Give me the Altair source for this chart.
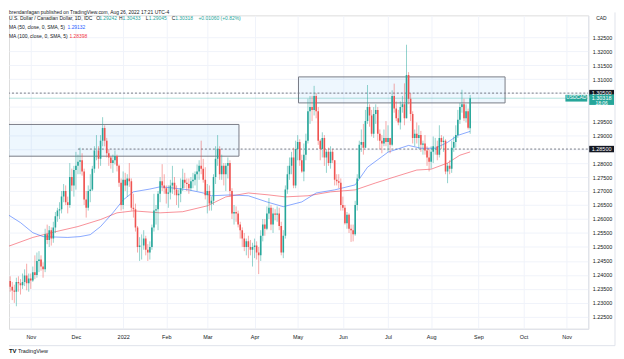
import altair as alt
import pandas as pd

UP = "#26a69a"
DOWN = "#ef5350"
TXT = "#131722"
FONT = "Liberation Sans"

# ---- daily USD/CAD candles (close, high, low); open = previous close ----
first_open = 1.2385
oct21 = [(1.2378,1.2400,1.2345),(1.2358,1.2395,1.2340),(1.2344,1.2375,1.2310),(1.2340,1.2365,1.2300),
         (1.2375,1.2390,1.2288),(1.2370,1.2395,1.2340),(1.2363,1.2385,1.2330),(1.2375,1.2405,1.2350),
         (1.2398,1.2420,1.2360),(1.2370,1.2440,1.2345),(1.2387,1.2405,1.2340)]
nov21 = [(1.2380,1.2405,1.2350),(1.2410,1.2430,1.2375),(1.2400,1.2470,1.2385),(1.2450,1.2480,1.2390),
         (1.2455,1.2485,1.2410),(1.2430,1.2470,1.2415),(1.2420,1.2445,1.2390),(1.2545,1.2565,1.2410),
         (1.2525,1.2580,1.2510),(1.2560,1.2575,1.2500),(1.2530,1.2570,1.2505),(1.2570,1.2590,1.2515),
         (1.2610,1.2625,1.2550),(1.2630,1.2640,1.2590),(1.2635,1.2660,1.2600),(1.2680,1.2700,1.2620),
         (1.2700,1.2725,1.2660),(1.2660,1.2720,1.2650),(1.2650,1.2680,1.2620),(1.2750,1.2800,1.2640),
         (1.2720,1.2780,1.2700),(1.2775,1.2790,1.2680)]
dec21 = [(1.2790,1.2840,1.2705),(1.2805,1.2830,1.2760),(1.2810,1.2855,1.2760),(1.2770,1.2835,1.2755),
         (1.2670,1.2780,1.2650),(1.2640,1.2700,1.2605),(1.2700,1.2720,1.2630),(1.2705,1.2760,1.2660),
         (1.2780,1.2790,1.2700),(1.2845,1.2860,1.2765),(1.2845,1.2900,1.2810),(1.2815,1.2860,1.2780),
         (1.2880,1.2900,1.2790),(1.2925,1.2964,1.2860),(1.2880,1.2935,1.2860),(1.2835,1.2890,1.2820),
         (1.2820,1.2850,1.2790),(1.2800,1.2825,1.2780),(1.2810,1.2830,1.2765),(1.2825,1.2845,1.2795),
         (1.2790,1.2830,1.2770),(1.2730,1.2795,1.2715),(1.2650,1.2745,1.2630)]
jan22 = [(1.2740,1.2770,1.2635),(1.2720,1.2765,1.2700),(1.2745,1.2760,1.2680),(1.2735,1.2800,1.2715),
         (1.2640,1.2745,1.2630),(1.2635,1.2690,1.2605),(1.2570,1.2655,1.2555),(1.2500,1.2575,1.2480),
         (1.2505,1.2535,1.2450),(1.2505,1.2545,1.2455),(1.2530,1.2560,1.2490),(1.2490,1.2540,1.2470),
         (1.2480,1.2510,1.2450),(1.2500,1.2520,1.2455),(1.2570,1.2580,1.2490),(1.2630,1.2690,1.2555),
         (1.2635,1.2650,1.2580),(1.2690,1.2700,1.2560),(1.2735,1.2750,1.2660),(1.2720,1.2796,1.2700),
         (1.2710,1.2760,1.2690)]
feb22 = [(1.2690,1.2720,1.2655),(1.2695,1.2720,1.2640),(1.2720,1.2740,1.2670),(1.2730,1.2790,1.2690),
         (1.2705,1.2750,1.2685),(1.2685,1.2720,1.2650),(1.2690,1.2705,1.2640),(1.2710,1.2745,1.2660),
         (1.2740,1.2780,1.2700),(1.2730,1.2765,1.2710),(1.2725,1.2745,1.2700),(1.2710,1.2745,1.2690),
         (1.2735,1.2750,1.2700),(1.2740,1.2765,1.2710),(1.2760,1.2770,1.2720),(1.2770,1.2795,1.2700),
         (1.2790,1.2810,1.2740),(1.2780,1.2880,1.2760),(1.2740,1.2815,1.2730),(1.2685,1.2785,1.2670)]
mar22 = [(1.2700,1.2725,1.2620),(1.2655,1.2720,1.2630),(1.2665,1.2680,1.2630),(1.2750,1.2760,1.2650),
         (1.2815,1.2860,1.2725),(1.2850,1.2900,1.2790),(1.2760,1.2860,1.2740),(1.2790,1.2830,1.2740),
         (1.2760,1.2800,1.2720),(1.2790,1.2800,1.2700),(1.2800,1.2820,1.2745),(1.2700,1.2810,1.2680),
         (1.2620,1.2710,1.2600),(1.2625,1.2650,1.2580),(1.2620,1.2645,1.2590),(1.2580,1.2630,1.2570),
         (1.2560,1.2590,1.2530),(1.2530,1.2570,1.2500),(1.2500,1.2550,1.2485),(1.2520,1.2530,1.2470),
         (1.2500,1.2540,1.2460),(1.2490,1.2525,1.2470),(1.2500,1.2515,1.2430)]
apr22 = [(1.2505,1.2530,1.2460),(1.2480,1.2520,1.2455),(1.2470,1.2500,1.2403),(1.2540,1.2560,1.2450),
         (1.2580,1.2600,1.2520),(1.2565,1.2600,1.2540),(1.2620,1.2645,1.2560),(1.2640,1.2675,1.2600),
         (1.2580,1.2650,1.2560),(1.2620,1.2640,1.2550),(1.2615,1.2635,1.2595),(1.2620,1.2645,1.2590),
         (1.2575,1.2640,1.2560),(1.2480,1.2590,1.2470),(1.2540,1.2560,1.2460),(1.2705,1.2720,1.2530),
         (1.2760,1.2790,1.2690),(1.2790,1.2820,1.2740),(1.2820,1.2840,1.2760),(1.2720,1.2855,1.2710),
         (1.2850,1.2880,1.2710)]
may22 = [(1.2875,1.2900,1.2810),(1.2810,1.2885,1.2790),(1.2770,1.2830,1.2765),(1.2830,1.2870,1.2735),
         (1.2880,1.2905,1.2810),(1.2985,1.3030,1.2870),(1.3000,1.3040,1.2940),(1.2990,1.3040,1.2950),
         (1.3040,1.3076,1.2970),(1.2985,1.3050,1.2960),(1.2880,1.3000,1.2865),(1.2850,1.2885,1.2810),
         (1.2890,1.2910,1.2820),(1.2820,1.2900,1.2790),(1.2840,1.2850,1.2765),(1.2800,1.2855,1.2790),
         (1.2840,1.2860,1.2780),(1.2810,1.2850,1.2800),(1.2740,1.2810,1.2720),(1.2735,1.2760,1.2720),
         (1.2730,1.2760,1.2710),(1.2650,1.2745,1.2630)]
jun22 = [(1.2640,1.2680,1.2630),(1.2585,1.2650,1.2580),(1.2615,1.2625,1.2565),(1.2565,1.2620,1.2550),
         (1.2560,1.2580,1.2518),(1.2545,1.2580,1.2520),(1.2650,1.2665,1.2540),(1.2745,1.2760,1.2630),
         (1.2865,1.2880,1.2745),(1.2875,1.2920,1.2840),(1.2855,1.2940,1.2830),(1.2950,1.2990,1.2860),
         (1.3000,1.3079,1.2940),(1.2970,1.3010,1.2930),(1.2905,1.2990,1.2895),(1.2975,1.3000,1.2890),
         (1.2990,1.3010,1.2940),(1.2905,1.3000,1.2880),(1.2880,1.2920,1.2850),(1.2870,1.2900,1.2835),
         (1.2890,1.2920,1.2860),(1.2875,1.2950,1.2860)]
jul22 = [(1.2890,1.2935,1.2840),(1.2865,1.2890,1.2835),(1.3040,1.3060,1.2860),(1.2995,1.3084,1.2980),
         (1.2960,1.3020,1.2950),(1.2945,1.2990,1.2935),(1.3000,1.3020,1.2920),(1.3010,1.3040,1.2980),
         (1.2960,1.3085,1.2935),(1.3115,1.3223,1.2960),(1.3030,1.3125,1.3010),(1.2975,1.3050,1.2950),
         (1.2890,1.2985,1.2870),(1.2905,1.2920,1.2860),(1.2890,1.2945,1.2870),(1.2900,1.2935,1.2850),
         (1.2865,1.2915,1.2840),(1.2870,1.2880,1.2830),(1.2845,1.2900,1.2830),(1.2820,1.2860,1.2790),
         (1.2805,1.2850,1.2770)]
aug22 = [(1.2840,1.2860,1.2780),(1.2860,1.2895,1.2800),(1.2860,1.2890,1.2830),(1.2830,1.2880,1.2810),
         (1.2890,1.2935,1.2820),(1.2875,1.2900,1.2850),(1.2880,1.2895,1.2840),(1.2770,1.2885,1.2760),
         (1.2790,1.2800,1.2728),(1.2780,1.2810,1.2760),(1.2855,1.2880,1.2765),(1.2875,1.2895,1.2840),
         (1.2900,1.2935,1.2855),(1.2955,1.2990,1.2890),(1.3000,1.3015,1.2940),(1.3010,1.3062,1.2980),
         (1.2960,1.3030,1.2950),(1.2985,1.3010,1.2945),(1.2926,1.2995,1.2920),(1.30318,1.30433,1.29045)]
months = [oct21, nov21, dec21, jan22, feb22, mar22, apr22, may22, jun22, jul22, aug22]

# ---- moving averages (bar index, value) ----
ma50_idx = [-11, -5, 1, 6, 18, 24, 29, 34, 40, 45, 50, 58, 63, 69, 77, 84, 88, 97, 106,
            115, 123, 132, 139, 148, 158, 164, 174, 184, 190, 197, 203, 208, 214]
ma50_val = [1.2615, 1.2587, 1.2551, 1.2537, 1.2534, 1.2537, 1.2544, 1.2573, 1.2622, 1.2668,
            1.2697, 1.2707, 1.2715, 1.2711, 1.2704, 1.2693, 1.2683, 1.2686, 1.2683, 1.2661,
            1.2644, 1.2661, 1.2693, 1.2704, 1.2722, 1.2785, 1.2839, 1.2863, 1.2853, 1.2853,
            1.2874, 1.2899, 1.29132]
ma100_idx = [-11, 1, 10, 23, 34, 42, 50, 63, 74, 86, 95, 106, 116, 124, 135, 146, 158, 168,
             177, 188, 195, 203, 209, 214]
ma100_val = [1.2502, 1.2534, 1.2551, 1.2573, 1.2598, 1.2622, 1.2629, 1.2622, 1.2626, 1.2647,
             1.2679, 1.2693, 1.2686, 1.2679, 1.2683, 1.2697, 1.2704, 1.2729, 1.2750, 1.2775,
             1.2778, 1.2800, 1.2828, 1.28398]

# ---- drawings ----
zone_start = [-13, 130.4]
zone_end = [101.4, 231]
zone_top = [1.2938, 1.3108]
zone_bottom = [1.28245, 1.3015]
level_value = [1.305, 1.285]
level_start = [-13, 23]
last_price = 1.30318

month_idx = [0, 22, 45, 66, 86, 109, 130, 152, 174, 195, 218, 240, 261]
month_lbl = ["Nov", "Dec", "2022", "Feb", "Mar", "Apr", "May", "Jun", "Jul", "Aug", "Sep", "Oct", "Nov"]
price_ticks = [round(1.225 + 0.005 * k, 3) for k in range(21)]
hidden_label = 1.30   # covered by the last-price tag in the reference

X_DOM = [-10.6, 271.5]
Y_DOM = [1.22074, 1.3328]
W, H = 584, 316

# ---- build table ----
rows = []
prev = first_open
k = 0
for m in months:
    for c, h, l in m:
        o = prev
        rows.append({"i": k - 11, "open": o, "close": c,
                     "high": max(h, o, c), "low": min(l, o, c),
                     "dir": "up" if c >= o else "down"})
        prev = c
        k += 1
rows[-1]["open"] = 1.29242
rows[-1]["dir"] = "up"
df = pd.DataFrame(rows)

xs = alt.Scale(domain=X_DOM, nice=False, zero=False)
ys = alt.Scale(domain=Y_DOM, nice=False, zero=False)
label_expr = "".join(f"datum.value == {v} ? '{t}' : " for v, t in zip(month_idx, month_lbl)) + "''"
ylabel_expr = f"abs(datum.value - {hidden_label}) < 0.0001 ? '' : format(datum.value, '.5f')"
xaxis = alt.Axis(values=month_idx, labelExpr=label_expr, title=None, grid=True, gridColor="#f0f3fa",
                 ticks=False, domainColor="#e0e3eb", labelFontSize=5.5, labelColor=TXT,
                 labelFont=FONT, labelPadding=6)
yaxis = alt.Axis(values=price_ticks, labelExpr=ylabel_expr, orient="right", title=None, grid=True,
                 gridColor="#f0f3fa", ticks=False, domainColor="#e0e3eb", labelFontSize=5.5,
                 labelColor=TXT, labelFont=FONT, labelPadding=4)
X = lambda f: alt.X(f, type="quantitative", scale=xs, axis=xaxis)
Y = lambda f: alt.Y(f, type="quantitative", scale=ys, axis=yaxis)
col = alt.Color("dir:N", scale=alt.Scale(domain=["up", "down"], range=[UP, DOWN]), legend=None)

base = alt.Chart(df)
wicks = base.mark_rule(strokeWidth=1, opacity=0.5, clip=True).encode(x=X("i"), y=Y("low"), y2="high", color=col)
bodies = base.mark_rule(strokeWidth=1.6, clip=True).encode(x=X("i"), y=Y("open"), y2="close", color=col)

zdf = pd.DataFrame({"x1": zone_start, "x2": zone_end, "t": zone_top, "b": zone_bottom})
zones = alt.Chart(zdf).mark_rect(fill="#2196f3", fillOpacity=0.08, stroke="#787b86",
                                 strokeWidth=1, clip=True).encode(x=X("x1"), x2="x2", y=Y("b"), y2="t")

ldf = pd.DataFrame({"x1": level_start, "x2": [X_DOM[1]] * 2, "v": level_value})
levels = alt.Chart(ldf).mark_rule(strokeDash=[2, 2], color="#787b86", strokeWidth=1, clip=True).encode(
    x=X("x1"), x2="x2", y=Y("v"))

pdf = pd.DataFrame({"x1": [X_DOM[0]], "x2": [X_DOM[1]], "v": [last_price]})
pline = alt.Chart(pdf).mark_rule(color=UP, opacity=0.35, strokeWidth=1, clip=True).encode(
    x=X("x1"), x2="x2", y=Y("v"))

m50 = alt.Chart(pd.DataFrame({"i": ma50_idx, "v": ma50_val})).mark_line(
    color="#2962ff", strokeWidth=1, opacity=0.55, clip=True).encode(x=X("i"), y=Y("v"))
m100 = alt.Chart(pd.DataFrame({"i": ma100_idx, "v": ma100_val})).mark_line(
    color="#f23645", strokeWidth=1, opacity=0.55, clip=True).encode(x=X("i"), y=Y("v"))

# axis price boxes
bdf = pd.DataFrame({"v": level_value + [last_price],
                    "lo": [level_value[0] - 0.00115, level_value[1] - 0.00115, last_price - 0.0024],
                    "hi": [level_value[0] + 0.00115, level_value[1] + 0.00115, last_price + 0.0014],
                    "c": ["#131722", "#131722", UP]})
boxes = alt.Chart(bdf).mark_rect().encode(
    x=alt.value(W + 1), x2=alt.value(W + 26), y=Y("lo"), y2="hi",
    fill=alt.Fill("c:N", scale=None))
bdf2 = pd.DataFrame({"v": level_value + [last_price], "t": ["1.30500", "1.28500", "1.30318"]})
boxtext = alt.Chart(bdf2).mark_text(color="white", fontSize=5.5, font=FONT, align="center",
                                    baseline="middle").encode(
    x=alt.value(W + 13.5), y=Y("v"), text="t:N")
ctext = alt.Chart(pd.DataFrame({"v": [last_price], "t": ["18:06"]})).mark_text(
    color="white", fontSize=5, font=FONT, align="center", baseline="middle", dy=4.5).encode(
    x=alt.value(W + 13.5), y=Y("v"), text="t:N")
tagdf = pd.DataFrame({"lo": [last_price - 0.0012], "hi": [last_price + 0.0012]})
tag = alt.Chart(tagdf).mark_rect(fill=UP).encode(
    x=alt.value(W - 23), x2=alt.value(W - 1), y=Y("lo"), y2="hi")
tagtext = alt.Chart(pd.DataFrame({"v": [last_price], "t": ["USDCAD"]})).mark_text(
    color="white", fontSize=4.8, font=FONT, align="center", baseline="middle").encode(
    x=alt.value(W - 12), y=Y("v"), text="t:N")

# header texts
hdr = pd.DataFrame([
    {"x": 0, "y": -3.5, "t": "brendanfagan published on TradingView.com, Aug 26, 2022 17:21 UTC-4", "c": TXT, "s": 5},
    {"x": 0, "y": 3, "t": "U.S. Dollar / Canadian Dollar, 1D, IDC", "c": TXT, "s": 5},
    {"x": 88, "y": 3, "t": "O", "c": TXT, "s": 5},
    {"x": 91, "y": 3, "t": "1.29242", "c": UP, "s": 5},
    {"x": 111, "y": 3, "t": "H", "c": TXT, "s": 5},
    {"x": 114.5, "y": 3, "t": "1.30433", "c": UP, "s": 5},
    {"x": 138, "y": 3, "t": "L", "c": TXT, "s": 5},
    {"x": 141, "y": 3, "t": "1.29045", "c": UP, "s": 5},
    {"x": 164, "y": 3, "t": "C", "c": TXT, "s": 5},
    {"x": 167.5, "y": 3, "t": "1.30318", "c": UP, "s": 5},
    {"x": 191, "y": 3, "t": "+0.01060 (+0.82%)", "c": UP, "s": 5},
    {"x": 0, "y": 12, "t": "MA (50, close, 0, SMA, 5)", "c": TXT, "s": 5},
    {"x": 59, "y": 12, "t": "1.29132", "c": "#2962ff", "s": 5},
    {"x": 0, "y": 21, "t": "MA (100, close, 0, SMA, 5)", "c": TXT, "s": 5},
    {"x": 61, "y": 21, "t": "1.28398", "c": "#f23645", "s": 5},
    {"x": W + 8, "y": 3, "t": "CAD", "c": TXT, "s": 5},
    {"x": 9, "y": H + 22, "t": "TradingView", "c": TXT, "s": 5.5},
])
headers = alt.Chart(hdr).mark_text(align="left", baseline="middle", font=FONT).encode(
    x=alt.X("x:Q", scale=None), y=alt.Y("y:Q", scale=None), text="t:N",
    color=alt.Color("c:N", scale=None), size=alt.Size("s:Q", scale=None))
logo = alt.Chart(pd.DataFrame({"t": ["TV"]})).mark_text(
    align="left", baseline="middle", font=FONT, fontWeight="bold", fontSize=6, color=TXT).encode(
    x=alt.value(0), y=alt.value(H + 22), text="t:N")
frame = alt.Chart(pd.DataFrame({"a": [0]})).mark_rule(color="#e0e3eb").encode(
    x=alt.value(0), x2=alt.value(W + 27), y=alt.value(H + 17))
frame2 = alt.Chart(pd.DataFrame({"a": [0]})).mark_rule(color="#e0e3eb").encode(
    x=alt.value(W + 27), y=alt.value(-3), y2=alt.value(H + 17))

chart = alt.layer(
    zones, levels, pline, m100, m50, wicks, bodies, tag, tagtext, boxes, boxtext, ctext,
    headers, logo, frame, frame2
).properties(
    width=W, height=H, padding={"left": 0, "top": 0, "right": 0, "bottom": 0}
).configure_view(stroke="#e0e3eb").configure(background="white")

chart.save("out.html", embed_options={"renderer": "svg", "actions": False})
